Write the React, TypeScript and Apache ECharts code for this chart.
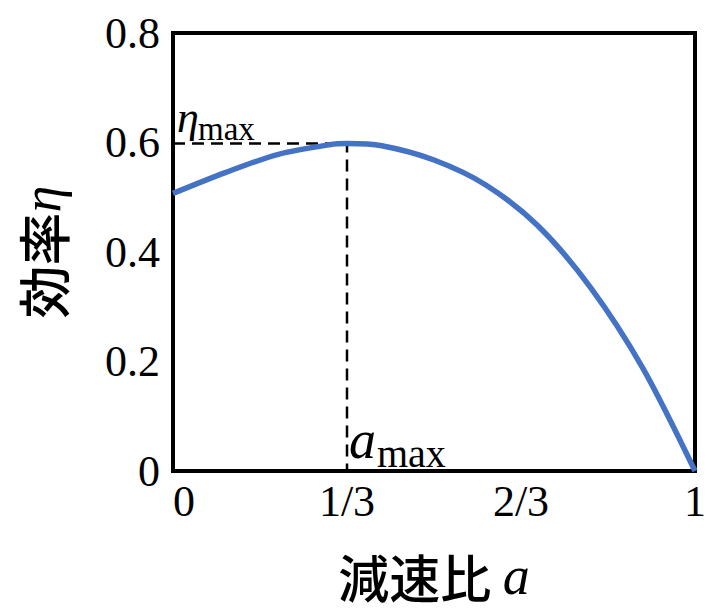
import React, { useEffect, useRef } from "react";
import * as echarts from "echarts";

// Reduction ratio a and efficiency η along the curve
const ratioA = [0, 0.1, 0.2, 0.3, 1 / 3, 0.4, 0.5, 0.6, 0.7, 0.8, 0.9, 1.0];
const efficiency = [0.507, 0.545, 0.578, 0.596, 0.598, 0.594, 0.568, 0.522, 0.447, 0.335, 0.188, 0.0];

// Optimum point
const aMax = 1 / 3;
const etaMax = 0.598;

// Tick labels on the a axis (in thirds)
const xTickLabels = ["0", "1/3", "2/3", "1"];

const SERIF = "'Liberation Serif', 'Times New Roman', serif";
const CJK = "'Noto Sans CJK JP', 'Noto Sans CJK SC', sans-serif";

export default function App() {
  const ref = useRef<HTMLDivElement>(null);

  useEffect(() => {
    document.body.style.margin = "0";
    if (!ref.current) return;
    const chart = echarts.init(ref.current, null, { renderer: "svg" });

    const curve = ratioA.map((a, i) => [a, efficiency[i]]);
    const guide = [
      [0, etaMax],
      [aMax, etaMax],
      [aMax, 0],
    ];

    chart.setOption({
      animation: false,
      backgroundColor: "#ffffff",
      grid: {
        left: 173,
        right: 5,
        top: 33,
        bottom: 141,
        show: true,
        borderColor: "#000",
        borderWidth: 4,
        containLabel: false,
      },
      xAxis: {
        type: "value",
        min: 0,
        max: 1,
        interval: 1 / 3,
        name: "{c|減速比 }{e|a}",
        nameLocation: "middle",
        nameGap: 80,
        nameTextStyle: {
          lineHeight: 50,
          rich: {
            c: { fontFamily: CJK, fontWeight: 500, fontSize: 51, lineHeight: 50, color: "#000" },
            e: { fontFamily: SERIF, fontStyle: "italic", fontSize: 54, lineHeight: 50, color: "#000" },
          },
        },
        axisLine: { show: true, lineStyle: { color: "#000", width: 4 } },
        axisTick: { show: false },
        splitLine: { show: false },
        axisLabel: {
          fontFamily: SERIF,
          fontSize: 44,
          color: "#000",
          margin: 8,
          alignMinLabel: "left",
          formatter: (v: number) => xTickLabels[Math.round(v * 3)] ?? "",
        },
      },
      yAxis: {
        type: "value",
        min: 0,
        max: 0.8,
        interval: 0.2,
        name: "{c|効率}{e|η}",
        nameLocation: "middle",
        nameRotate: 90,
        nameGap: 104,
        nameTextStyle: {
          rich: {
            c: { fontFamily: CJK, fontWeight: 500, fontSize: 53, color: "#000" },
            e: { fontFamily: SERIF, fontStyle: "italic", fontSize: 54, color: "#000" },
          },
        },
        axisLine: { show: true, lineStyle: { color: "#000", width: 4 } },
        axisTick: { show: false },
        splitLine: { show: false },
        axisLabel: {
          fontFamily: SERIF,
          fontSize: 44,
          color: "#000",
          margin: 13,
          formatter: (v: number) => (v === 0 ? "0" : v.toFixed(1)),
        },
      },
      series: [
        {
          type: "line",
          data: guide,
          symbol: "none",
          silent: true,
          lineStyle: { color: "#000", width: 2.5, type: [12, 7] },
          markPoint: {
            symbol: "circle",
            symbolSize: 0,
            silent: true,
            data: [
              {
                coord: [0, etaMax],
                label: {
                  formatter: "η",
                  position: [4, -4],
                  align: "left",
                  verticalAlign: "bottom",
                  fontFamily: SERIF,
                  fontStyle: "italic",
                  fontSize: 44,
                  color: "#000",
                },
              },
              {
                coord: [0, etaMax],
                label: {
                  formatter: "max",
                  position: [25, 2],
                  align: "left",
                  verticalAlign: "bottom",
                  fontFamily: SERIF,
                  fontSize: 33,
                  color: "#000",
                },
              },
              {
                coord: [aMax, 0],
                label: {
                  formatter: "a",
                  position: [2, -4],
                  align: "left",
                  verticalAlign: "bottom",
                  fontFamily: SERIF,
                  fontStyle: "italic",
                  fontSize: 54,
                  color: "#000",
                },
              },
              {
                coord: [aMax, 0],
                label: {
                  formatter: "max",
                  position: [30, 2],
                  align: "left",
                  verticalAlign: "bottom",
                  fontFamily: SERIF,
                  fontSize: 40,
                  color: "#000",
                },
              },
            ],
          },
        },
        {
          type: "line",
          data: curve,
          symbol: "none",
          smooth: 0.3,
          lineStyle: { color: "#4472C4", width: 5.5 },
        },
      ],
    });

    return () => chart.dispose();
  }, []);

  return <div ref={ref} style={{ width: 709, height: 612 }} />;
}
